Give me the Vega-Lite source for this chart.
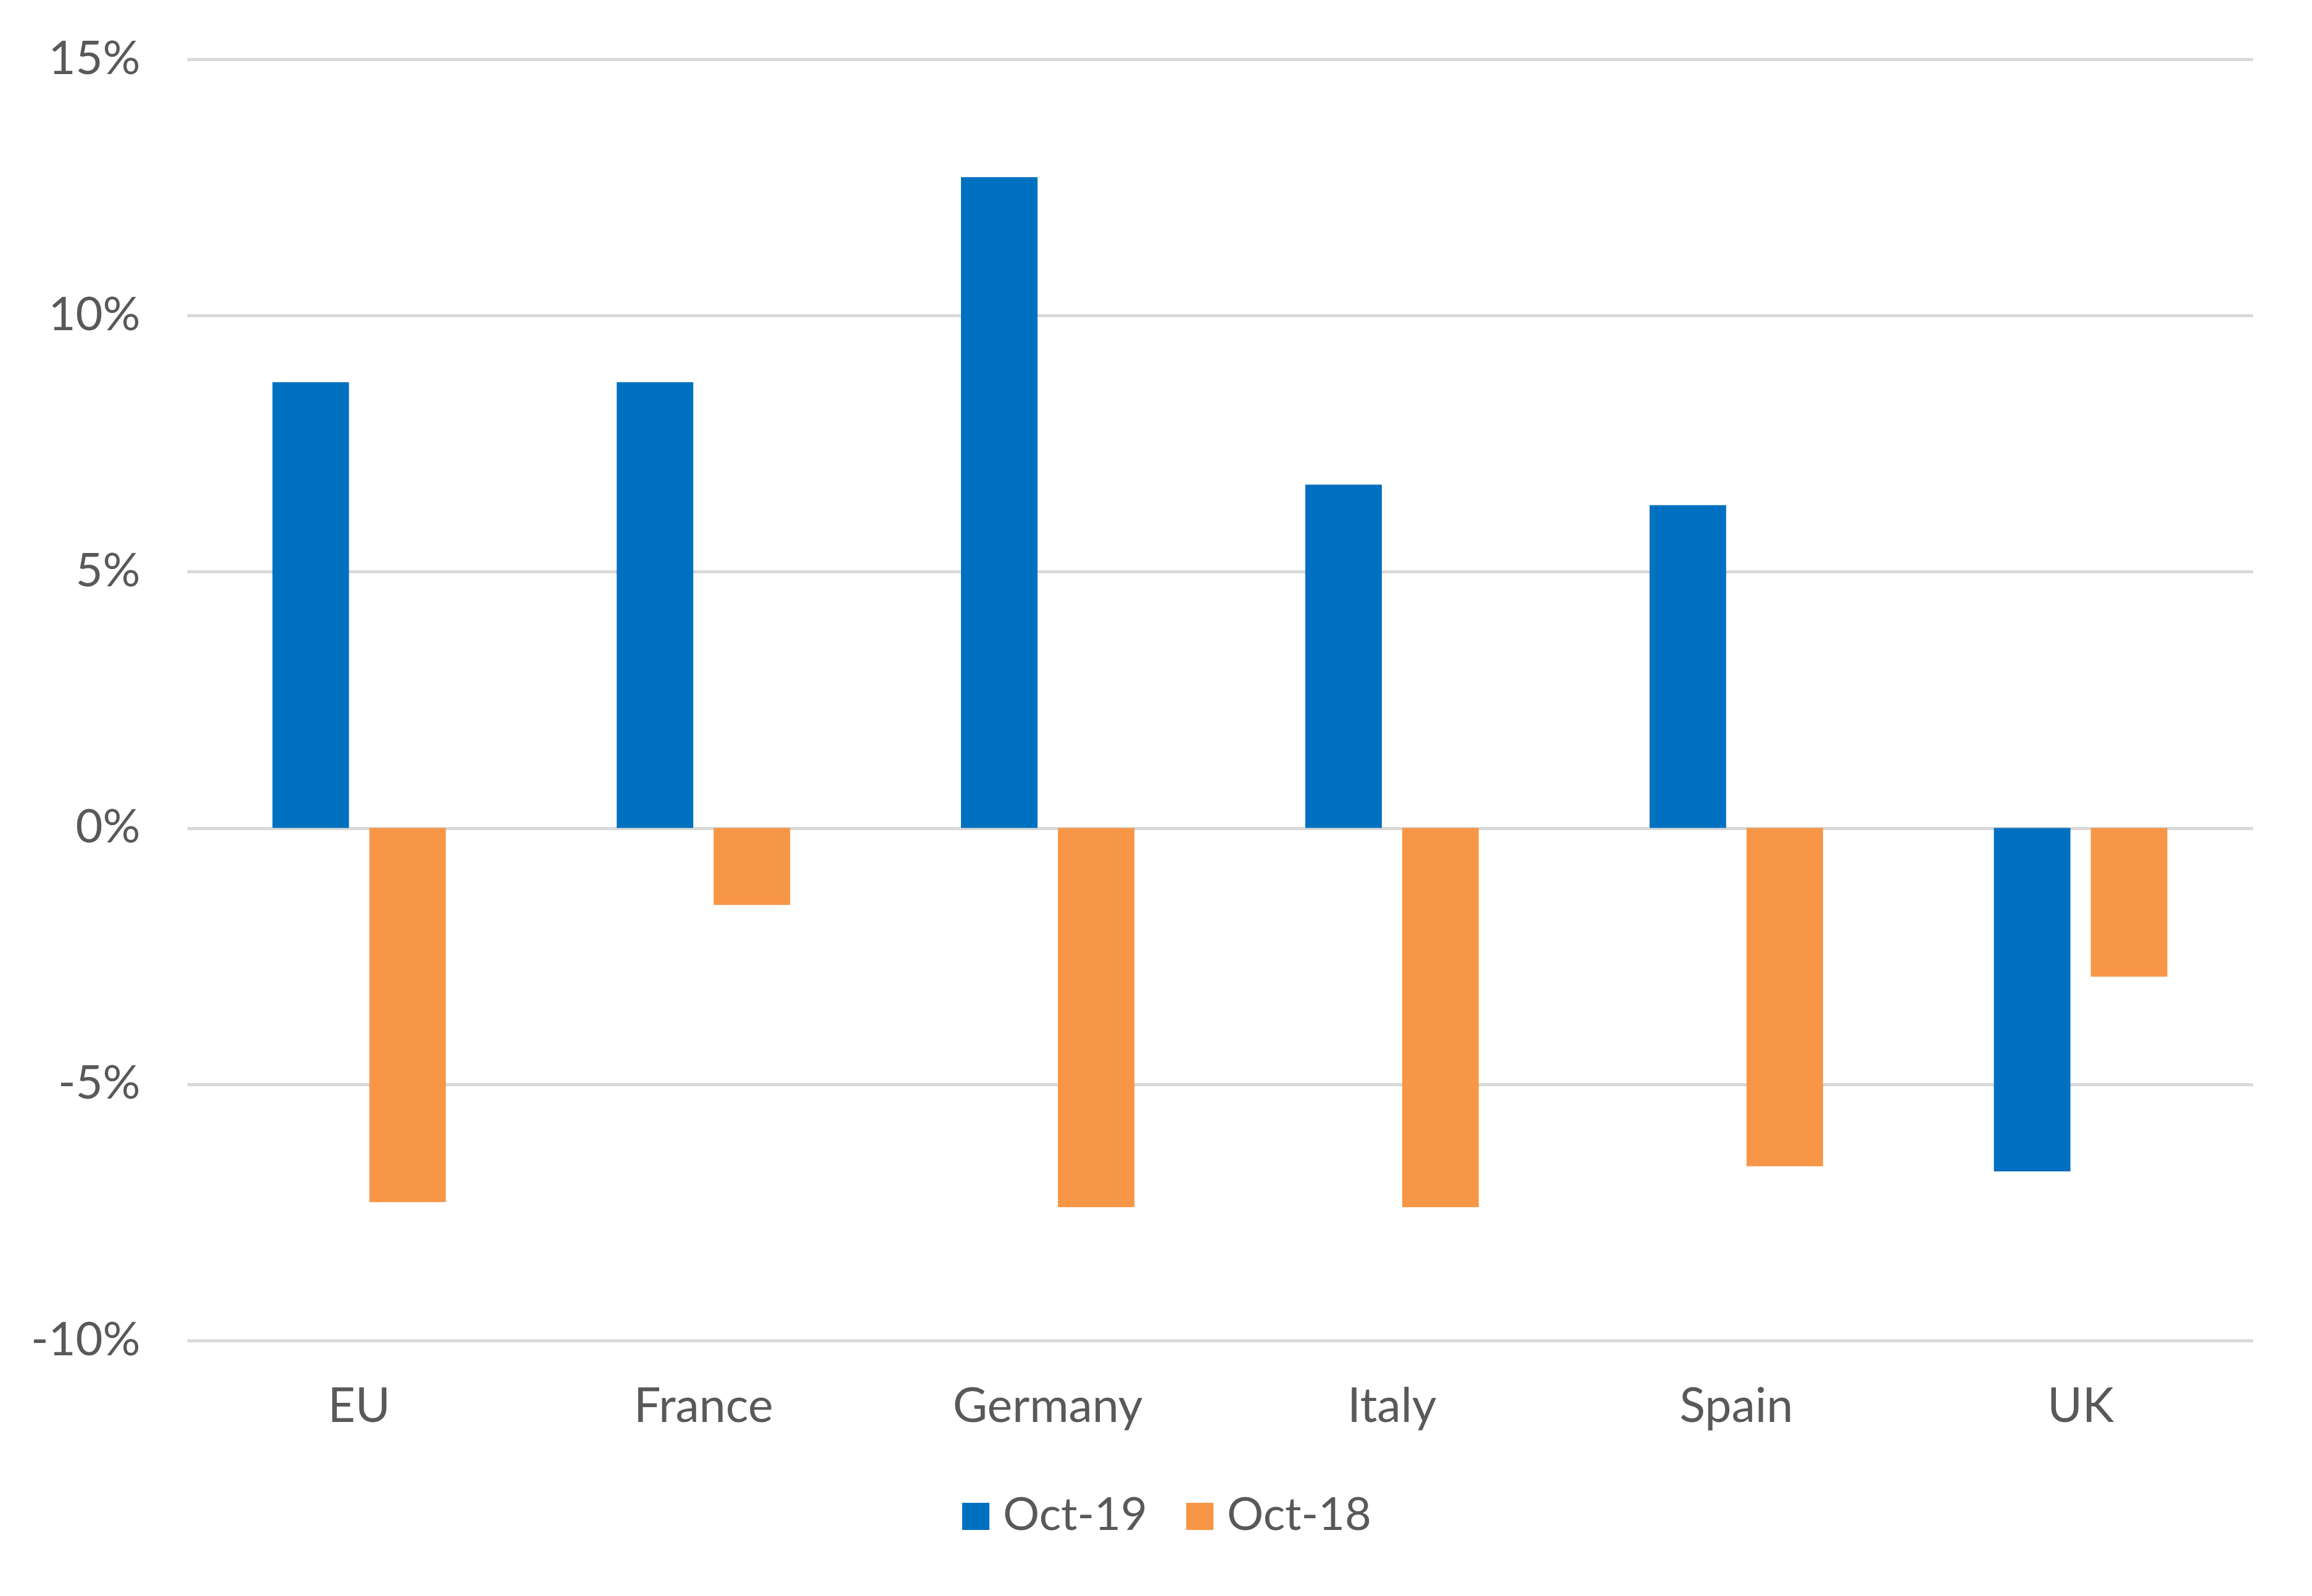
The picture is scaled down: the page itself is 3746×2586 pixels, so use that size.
{
  "$schema": "https://vega.github.io/schema/vega-lite/v6.json",
  "width": 3347,
  "height": 2076,
  "autosize": {"type": "none"},
  "padding": {"left": 303, "top": 96, "right": 96, "bottom": 414},
  "background": "white",
  "config": {
    "view": {"stroke": null},
    "font": "Lato"
  },
  "data": {
    "values": [
      {"country": "EU", "period": "Oct-19", "value": 0.087},
      {"country": "EU", "period": "Oct-18", "value": -0.073},
      {"country": "France", "period": "Oct-19", "value": 0.087},
      {"country": "France", "period": "Oct-18", "value": -0.015},
      {"country": "Germany", "period": "Oct-19", "value": 0.127},
      {"country": "Germany", "period": "Oct-18", "value": -0.074},
      {"country": "Italy", "period": "Oct-19", "value": 0.067},
      {"country": "Italy", "period": "Oct-18", "value": -0.074},
      {"country": "Spain", "period": "Oct-19", "value": 0.063},
      {"country": "Spain", "period": "Oct-18", "value": -0.066},
      {"country": "UK", "period": "Oct-19", "value": -0.067},
      {"country": "UK", "period": "Oct-18", "value": -0.029}
    ]
  },
  "mark": {"type": "bar"},
  "encoding": {
    "x": {
      "field": "country",
      "type": "nominal",
      "sort": ["EU", "France", "Germany", "Italy", "Spain", "UK"],
      "scale": {"paddingInner": 0.4962, "paddingOuter": 0.2481},
      "axis": {
        "title": null,
        "domain": false,
        "ticks": false,
        "grid": false,
        "labelAngle": 0,
        "labelFont": "Lato",
        "labelFontSize": 77,
        "labelColor": "#595959",
        "labelPadding": 70,
        "labelLimit": 0
      }
    },
    "xOffset": {
      "field": "period",
      "type": "nominal",
      "sort": ["Oct-19", "Oct-18"],
      "scale": {"paddingInner": 0.21, "paddingOuter": 0}
    },
    "y": {
      "field": "value",
      "type": "quantitative",
      "scale": {"domain": [-0.1, 0.15], "nice": false, "zero": false},
      "axis": {
        "title": null,
        "values": [-0.1, -0.05, 0, 0.05, 0.1, 0.15],
        "labelExpr": "(datum.value < 0 ? '-' : '') + format(abs(datum.value), '.0%')",
        "domain": false,
        "ticks": false,
        "grid": true,
        "gridColor": "#D9D9D9",
        "gridWidth": 5,
        "labelFont": "Lato",
        "labelFontSize": 76,
        "labelColor": "#595959",
        "labelPadding": 76,
        "labelLimit": 0
      }
    },
    "color": {
      "field": "period",
      "type": "nominal",
      "scale": {"domain": ["Oct-19", "Oct-18"], "range": ["#0070C0", "#F79646"]},
      "legend": {
        "title": null,
        "orient": "none",
        "direction": "horizontal",
        "legendX": 1241,
        "legendY": 2324,
        "symbolType": "square",
        "symbolSize": 1950,
        "symbolStrokeWidth": 0,
        "labelFont": "Lato",
        "labelFontSize": 74,
        "labelColor": "#595959",
        "labelOffset": 7,
        "labelLimit": 0,
        "columnPadding": 48
      }
    }
  }
}
